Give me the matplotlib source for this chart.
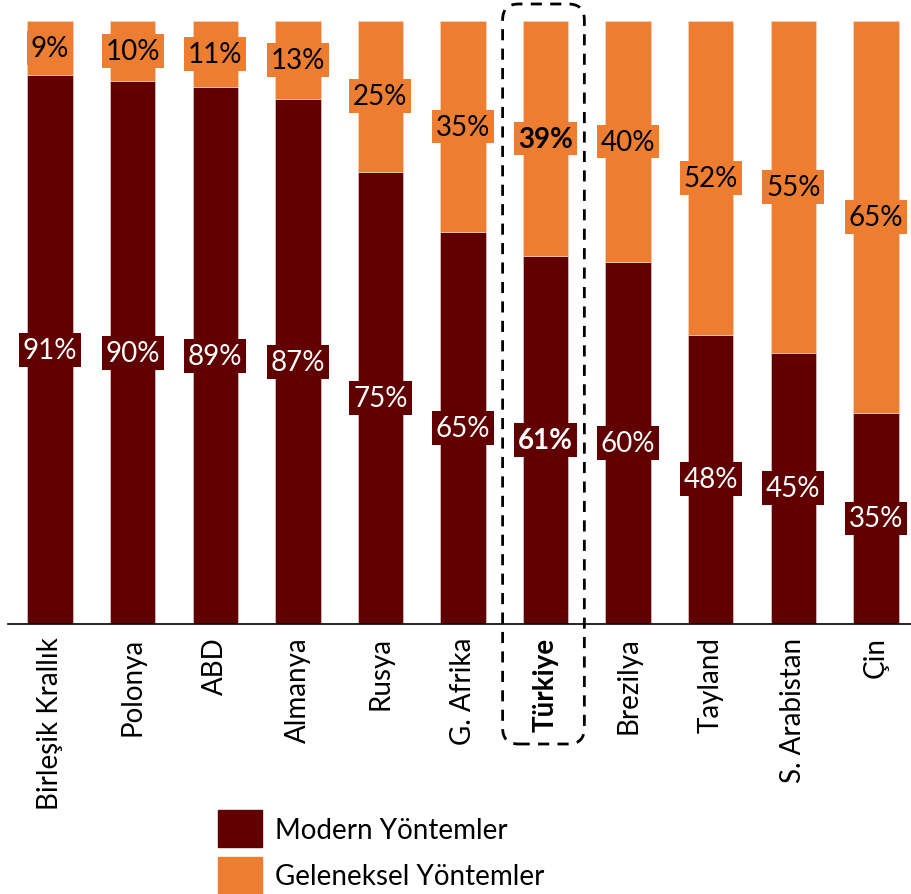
import matplotlib
matplotlib.use("Agg")
import matplotlib.pyplot as plt
from matplotlib.patches import FancyBboxPatch, Patch
from matplotlib.transforms import IdentityTransform

plt.rcParams["font.family"] = ["Lato", "DejaVu Sans"]

countries = ["Birleşik Krallık", "Polonya", "ABD", "Almanya", "Rusya",
             "G. Afrika", "Türkiye", "Brezilya", "Tayland", "S. Arabistan", "Çin"]
modern = [91, 90, 89, 87, 75, 65, 61, 60, 48, 45, 35]
traditional = [9, 10, 11, 13, 25, 35, 39, 40, 52, 55, 65]
highlight = "Türkiye"

dark_red = "#600000"
orange = "#ED7D31"
fs = 20

fig = plt.figure(figsize=(9.11, 8.95), dpi=100)
ax = fig.add_axes([8 / 911, 1 - 625 / 895, 905 / 911, 603 / 895])

x = list(range(len(countries)))
ax.bar(x, modern, width=0.55, color=dark_red, edgecolor="#f3d9d9", linewidth=0.4)
ax.bar(x, traditional, width=0.55, bottom=modern, color=orange,
       edgecolor="#f7d9c4", linewidth=0.4)

for i, name in enumerate(countries):
    weight = "bold" if name == highlight else "normal"
    ax.text(i, modern[i] / 2, f"{modern[i]}%", ha="center", va="center",
            fontsize=fs, color="white", fontweight=weight,
            bbox=dict(boxstyle="square,pad=0.14", fc=dark_red, ec="none"))
    ax.text(i, modern[i] + traditional[i] / 2, f"{traditional[i]}%",
            ha="center", va="center", fontsize=fs, color="black",
            fontweight=weight,
            bbox=dict(boxstyle="square,pad=0.14", fc=orange, ec="none"))

ax.set_xlim(-0.51, 10.45)
ax.set_ylim(0, 100)
ax.set_xticks(x)
ax.set_xticklabels(countries, rotation=90, fontsize=fs)
for lbl in ax.get_xticklabels():
    if lbl.get_text() == highlight:
        lbl.set_fontweight("bold")
ax.tick_params(axis="x", length=0, pad=9)
ax.set_yticks([])
for side in ["top", "right", "left"]:
    ax.spines[side].set_visible(False)
ax.spines["bottom"].set_linewidth(1.2)

# dashed rounded box around the highlighted column
hi = countries.index(highlight)
x0 = ax.transData.transform((hi - 0.52, 0))[0]
x1 = ax.transData.transform((hi + 0.47, 0))[0]
y_top = 895 - 5
y_bot = 895 - 745
box = FancyBboxPatch((x0, y_bot), x1 - x0, y_top - y_bot,
                     boxstyle="round,pad=0,rounding_size=16",
                     transform=IdentityTransform(), fill=False,
                     ec="black", lw=2, ls=(0, (4, 3)), clip_on=False)
fig.patches.append(box)

handles = [Patch(color=dark_red, label="Modern Yöntemler"),
           Patch(color=orange, label="Geleneksel Yöntemler")]
fig.legend(handles=handles, loc="upper left",
           bbox_to_anchor=(218 / 911, 1 - 811 / 895), frameon=False,
           fontsize=fs, handlelength=1.6, handleheight=1.68,
           labelspacing=0.35, handletextpad=0.45, borderpad=0,
           borderaxespad=0)

fig.savefig("out.png", dpi=100)
